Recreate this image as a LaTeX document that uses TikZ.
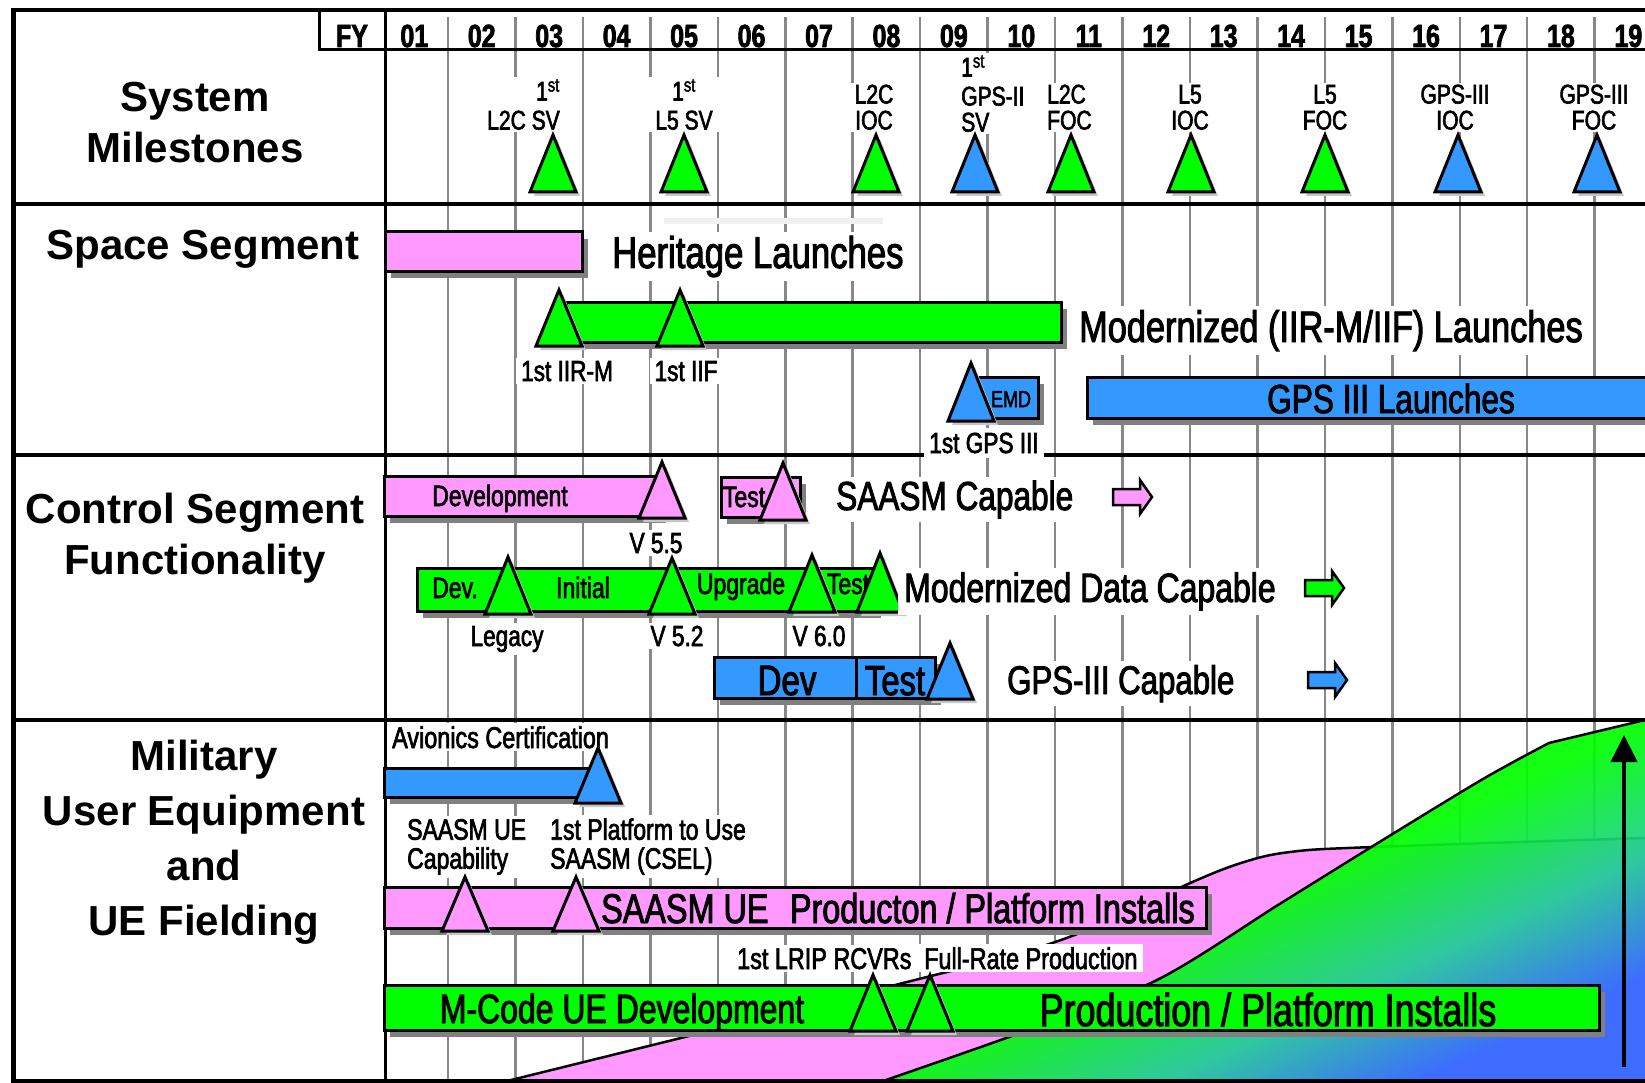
\documentclass[tikz,border=0pt]{standalone}
\usepackage{fontspec}
\setmainfont{Liberation Sans}
\newfontfamily\narrowfont[FakeStretch=0.78, FakeBold=2.2]{Liberation Sans}
\usetikzlibrary{shadows,arrows.meta}

\definecolor{barpink}{RGB}{255,153,255}
\definecolor{bargreen}{RGB}{0,255,0}
\definecolor{barblue}{RGB}{51,153,255}
\definecolor{gridgray}{RGB}{136,136,136}
\definecolor{fieldteal}{RGB}{30,205,150}
\definecolor{fieldblue}{RGB}{45,105,255}

\pgfdeclareverticalshading{fielding}{100bp}{color(0bp)=(fieldblue); color(27bp)=(fieldblue); color(38bp)=(fieldteal); color(50bp)=(bargreen); color(100bp)=(bargreen)}

\newcommand{\nrw}[1]{\narrowfont\fontsize{#1}{#1}\selectfont}
\newcommand{\mstone}[4]{\draw[mile, fill=#4] (#1,#2) -- (#1+23,#3) -- (#1-23,#3) -- cycle;}
\newcommand{\blockarr}[3]{\draw[arrowbox, fill=#3] (#1,#2-8) -- (#1+27,#2-8) -- (#1+27,#2-17) -- (#1+39,#2) -- (#1+27,#2+17) -- (#1+27,#2+8) -- (#1,#2+8) -- cycle;}

\tikzset{
  yearline/.style={draw=gridgray, line width=2.5pt},
  rowline/.style={draw=black, line width=4pt},
  bar/.style={draw=black, line width=3pt, drop shadow={shadow xshift=6pt, shadow yshift=-7pt, fill=black!50, opacity=1}},
  mile/.style={draw=black, line width=3pt, drop shadow={shadow xshift=4pt, shadow yshift=-4pt, fill=black!22, opacity=1}},
  arrowbox/.style={draw=black, line width=2.5pt},
  fieldarea/.style={draw=black, line width=2.5pt},
  rowhead/.style={font=\bfseries\fontsize{42}{51}\selectfont, align=center, inner sep=0pt},
  yr/.style={font=\narrowfont\bfseries\fontsize{32}{32}\selectfont, anchor=base, inner sep=0pt},
  msl/.style={font=\narrowfont\fontsize{27}{26}\selectfont, fill=white, inner xsep=6pt, inner ysep=2pt, anchor=south, align=center},
  tag/.style={font=\nrw{29.5}, fill=white, inner xsep=5pt, inner ysep=3pt, anchor=base},
  big/.style={font=\nrw{43}, fill=white, inner xsep=6pt, inner ysep=4pt, anchor=base west},
  inbar/.style={font=\nrw{29.5}, inner sep=0pt, anchor=base},
}

\begin{document}
\begin{tikzpicture}[x=1pt, y=-1pt]
\useasboundingbox (0,0) rectangle (1645,1083);
\fill[white] (0,0) rectangle (1645,1083);

% year grid
\foreach \k in {0,...,17}
  \draw[yearline] ({448+\k*67.45},17) -- ({448+\k*67.45},1080);

% fielding curves
\draw[fieldarea, fill=barpink] (418,1081) -- plot[smooth, tension=0.6] coordinates {(507,1081) (685,1037) (907,982) (1040,947) (1130,912) (1188,884) (1241,863) (1290,852) (1373,847) (1645,838)} -- (1660,838) -- (1660,1081) -- cycle;
\draw[fieldarea, shading=fielding, shading angle=25, fill opacity=0.92] (883,1081) -- plot[smooth, tension=0.5] coordinates {(883,1081) (1020,1033) (1157,980) (1278,905) (1373,846) (1483,779) (1549,743)} -- (1645,720) -- (1660,716) -- (1660,1081) -- cycle;

% frame
\draw[rowline] (13,10) -- (1660,10);
\draw[line width=5pt] (13,8) -- (13,1081);
\draw[rowline] (11,1081) -- (1660,1081);
\draw[line width=3pt] (385,8) -- (385,1081);
\draw[line width=3pt] (319,8) -- (319,50) -- (1660,50);
\foreach \y in {204,455,720}
  \draw[rowline] (11,\y) -- (1660,\y);

% header
\node[yr] (fy) at (352,47) {FY};
\foreach \yy [count=\i] in {01,02,03,04,05,06,07,08,09,10,11,12,13,14,15,16,17,18,19}
  \node[yr] (yr\yy) at ({448+(\i-1.5)*67.45},47) {\yy};

% row headings
\node[rowhead] (sysms) at (195,123) {System\\Milestones};
\node[rowhead, anchor=base] (spaceseg) at (203,259) {Space Segment};
\node[rowhead] (ctrlseg) at (195,538) {Control Segment\\Functionality};
\node[rowhead, font=\bfseries\fontsize{42}{55}\selectfont] (mue) at (204,842) {Military\\User Equipment\\and\\UE Fielding};

% system milestones
\node[msl, anchor=south east, align=right] (mlA) at (566,132) {1\textsuperscript{st}\\[3pt]L2C SV};
\node[msl] (mlB) at (684,132) {1\textsuperscript{st}\\[3pt]L5 SV};
\node[msl] (mlC) at (874,132) {L2C\\IOC};
\node[msl, anchor=south west, align=left] (mlD) at (955,134) {1\textsuperscript{st}\\[3pt]GPS-II\\SV};
\node[msl, anchor=south west, align=left] (mlE) at (1041,132) {L2C\\FOC};
\node[msl] (mlF) at (1190,132) {L5\\IOC};
\node[msl] (mlG) at (1325,132) {L5\\FOC};
\node[msl] (mlH) at (1455,132) {GPS-III\\IOC};
\node[msl] (mlI) at (1594,132) {GPS-III\\FOC};
\mstone{553}{135}{192}{bargreen}
\mstone{684}{135}{192}{bargreen}
\mstone{876}{135}{192}{bargreen}
\mstone{975}{135}{192}{barblue}
\mstone{1071}{135}{192}{bargreen}
\mstone{1191}{135}{192}{bargreen}
\mstone{1325}{135}{192}{bargreen}
\mstone{1458}{135}{192}{barblue}
\mstone{1597}{135}{192}{barblue}

% space segment
\fill[black!6] (664,218) rectangle (883,224);
\draw[bar, fill=barpink] (385,232) rectangle (582,271);
\node[big, font=\nrw{44.5}] (heritage) at (606,268) {Heritage Launches};
\draw[bar, fill=bargreen] (566,302) rectangle (1061,342);
\node[big, font=\nrw{44}] (modlaunch) at (1073,342) {Modernized (IIR-M/IIF) Launches};
\mstone{559}{290}{346}{bargreen}
\mstone{680}{290}{346}{bargreen}
\node[tag, font=\nrw{29}] (iirm) at (567,381) {1st IIR-M};
\node[tag, font=\nrw{29}] (iif) at (686,381) {1st IIF};
\draw[bar, fill=barblue] (968,377) rectangle (1038,418);
\node[inbar, font=\nrw{23}] (emd) at (1011,407) {EMD};
\mstone{971}{363}{421}{barblue}
\draw[bar, fill=barblue] (1087,377) rectangle (1665,418);
\node[inbar, font=\nrw{40.5}] (gpslaunch) at (1391,413) {GPS III Launches};
\node[tag, font=\nrw{29}, inner ysep=5pt] (gpsfirst) at (984,453) {1st GPS III};

% control segment
\draw[bar, fill=barpink] (384,476) rectangle (660,516);
\node[inbar] (devA) at (500,506) {Development};
\mstone{662}{462}{518}{barpink}
\node[tag, font=\nrw{29}] (vfivefive) at (656,553) {V 5.5};
\draw[bar, fill=barpink] (721,477) rectangle (800,517);
\node[inbar] (testA) at (744,507) {Test};
\mstone{783}{463}{520}{barpink}
\node[big, font=\nrw{40.5}] (saasmcap) at (830,510) {SAASM Capable};
\blockarr{1113}{497}{barpink}

\draw[bar, fill=bargreen] (417,568) rectangle (875,611);
\node[inbar] (devB) at (455,598) {Dev.};
\node[inbar] (initial) at (583,598) {Initial};
\node[inbar] (upgrade) at (741,594) {Upgrade};
\node[inbar] (testB) at (848,594) {Test};
\mstone{508}{557}{614}{bargreen}
\mstone{672}{558}{614}{bargreen}
\mstone{812}{555}{612}{bargreen}
\mstone{880}{553}{612}{bargreen}
\node[tag, font=\nrw{29}] (legacy) at (507,646) {Legacy};
\node[tag, font=\nrw{29}] (vfivetwo) at (677,646) {V 5.2};
\node[tag, font=\nrw{29}] (vsix) at (819,646) {V 6.0};
\node[big, font=\nrw{41}] (moddata) at (898,602) {Modernized Data Capable};
\blockarr{1305}{588}{bargreen}

\draw[bar, fill=barblue] (714,657) rectangle (856,698);
\draw[bar, fill=barblue] (856,657) rectangle (935,698);
\node[inbar, font=\nrw{42.5}] (devC) at (787,695) {Dev};
\node[inbar, font=\nrw{42}] (testC) at (895,695) {Test};
\mstone{950}{643}{699}{barblue}
\node[big, font=\nrw{40}] (gpscap) at (1001,694) {GPS-III Capable};
\blockarr{1308}{680}{barblue}

% military user equipment
\node[tag, anchor=base west, font=\nrw{30}] (avionics) at (387,748) {Avionics Certification};
\draw[bar, fill=barblue] (384,768) rectangle (590,797);
\mstone{598}{748}{803}{barblue}
\node[tag, anchor=south west, align=left, font=\narrowfont\fontsize{29.5}{29}\selectfont] (saasmue) at (402,878) {SAASM UE\\Capability};
\node[tag, anchor=south west, align=left, font=\narrowfont\fontsize{29.5}{29}\selectfont] (platform) at (545,878) {1st Platform to Use\\SAASM (CSEL)};
\draw[bar, fill=barpink] (384,887) rectangle (1206,928);
\node[inbar, anchor=base west, font=\nrw{41.5}] (saasmprod) at (601,923) {SAASM UE\hspace{0.3em} Producton / Platform Installs};
\mstone{465}{877}{931}{barpink}
\mstone{576}{877}{931}{barpink}
\node[tag, anchor=base west, font=\nrw{30}] (lrip) at (732,969) {1st LRIP RCVRs};
\node[tag, anchor=base west, font=\nrw{30}] (fullrate) at (919,969) {Full-Rate Production};
\draw[bar, fill=bargreen] (384,985) rectangle (1599,1030);
\node[inbar, font=\nrw{41}] (mcode) at (622,1023) {M-Code UE Development};
\node[inbar, font=\nrw{46}] (prodinst) at (1268,1026) {Production / Platform Installs};
\mstone{873}{975}{1031}{bargreen}
\mstone{930}{975}{1031}{bargreen}
\coordinate (fieldbase) at (1624,1067);
\coordinate (fieldtop) at (1624,735);
\draw[line width=4pt, -{Triangle[width=26pt, length=27pt]}] (fieldbase) -- (fieldtop);
\end{tikzpicture}
\end{document}
